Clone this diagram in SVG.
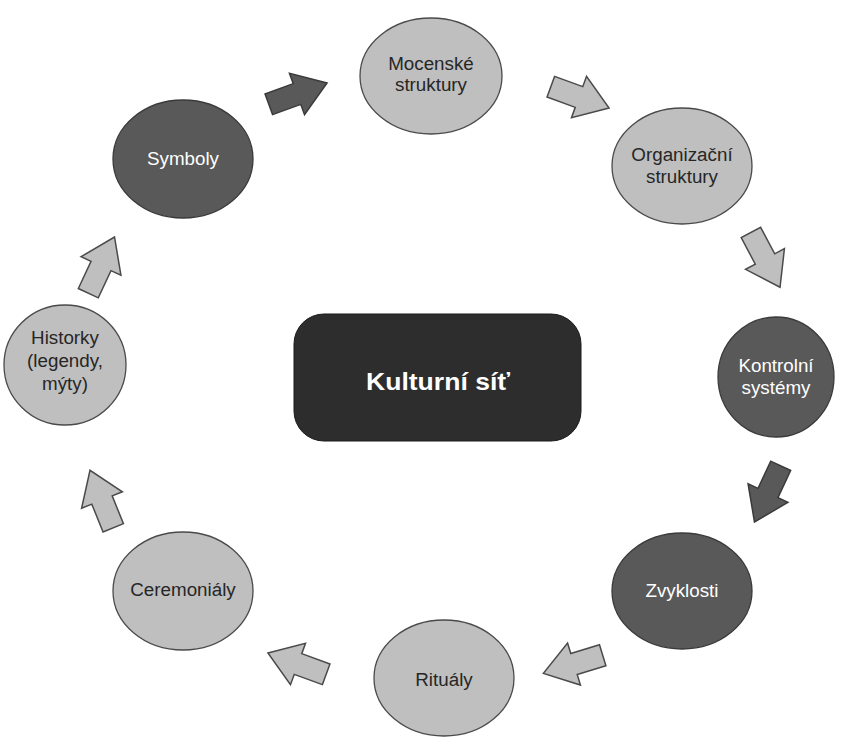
<svg xmlns="http://www.w3.org/2000/svg" width="848" height="737" viewBox="0 0 848 737">
<style>
.light{fill:#bfbfbf;stroke:#4a4a4a;stroke-width:1.3}
.dark{fill:#595959;stroke:#3a3a3a;stroke-width:1.3}
.t{font-family:"Liberation Sans",Arial,sans-serif;font-size:18.8px;text-anchor:middle;fill:#262626}
.tw{font-family:"Liberation Sans",Arial,sans-serif;font-size:18.8px;text-anchor:middle;fill:#ffffff}
.al{fill:#bfbfbf;stroke:#4a4a4a;stroke-width:1.5;stroke-linejoin:miter}
.ad{fill:#595959;stroke:#3a3a3a;stroke-width:1.5;stroke-linejoin:miter}
</style>
<defs>
<polygon id="arr" points="-30,-11 0,-11 0,-22 32,0 0,22 0,11 -30,11"/>
</defs>
<rect width="848" height="737" fill="#ffffff"/>
<g id="center">
<rect x="294" y="314" width="287" height="127" rx="30" ry="30" fill="#2d2d2d" stroke="#1a1a1a" stroke-width="1"/>
<text x="438" y="390" font-family="Liberation Sans,Arial,sans-serif" font-size="24" font-weight="bold" fill="#ffffff" text-anchor="middle" textLength="144" lengthAdjust="spacingAndGlyphs">Kulturní síť</text>
</g>
<g id="mocenske">
<ellipse cx="431" cy="76" rx="71" ry="58" class="light"/>
<text class="t" x="431" y="70">Mocenské</text>
<text class="t" x="431" y="91">struktury</text>
</g>
<g id="organizacni">
<ellipse cx="682" cy="166" rx="70" ry="58" class="light"/>
<text class="t" x="682" y="161">Organizační</text>
<text class="t" x="682" y="183">struktury</text>
</g>
<g id="kontrolni">
<ellipse cx="776" cy="377" rx="58" ry="60" class="dark"/>
<text class="tw" x="776" y="372">Kontrolní</text>
<text class="tw" x="776" y="394">systémy</text>
</g>
<g id="zvyklosti">
<ellipse cx="682" cy="591" rx="70" ry="58" class="dark"/>
<text class="tw" x="682" y="597">Zvyklosti</text>
</g>
<g id="ritualy">
<ellipse cx="444" cy="678" rx="70" ry="58" class="light"/>
<text class="t" x="444" y="686">Rituály</text>
</g>
<g id="ceremonialy">
<ellipse cx="183" cy="591" rx="70" ry="59" class="light"/>
<text class="t" x="183" y="596">Ceremoniály</text>
</g>
<g id="historky">
<ellipse cx="65" cy="365" rx="61" ry="60" class="light"/>
<text class="t" x="65" y="344">Historky</text>
<text class="t" x="65" y="367">(legendy,</text>
<text class="t" x="65" y="390">mýty)</text>
</g>
<g id="symboly">
<ellipse cx="183" cy="159" rx="70" ry="59" class="dark"/>
<text class="tw" x="183" y="165">Symboly</text>
</g>
<g id="connectors">
<use href="#arr" class="ad" transform="translate(297,94) rotate(-20)"/>
<use href="#arr" class="al" transform="translate(579,97) rotate(20)"/>
<use href="#arr" class="al" transform="translate(765,259) rotate(62)"/>
<use href="#arr" class="ad" transform="translate(768,493) rotate(115)"/>
<use href="#arr" class="al" transform="translate(574,664) rotate(163)"/>
<use href="#arr" class="al" transform="translate(298,664) rotate(200)"/>
<use href="#arr" class="al" transform="translate(102,500) rotate(-112)"/>
<use href="#arr" class="al" transform="translate(101,266) rotate(-65)"/>
</g>
</svg>
